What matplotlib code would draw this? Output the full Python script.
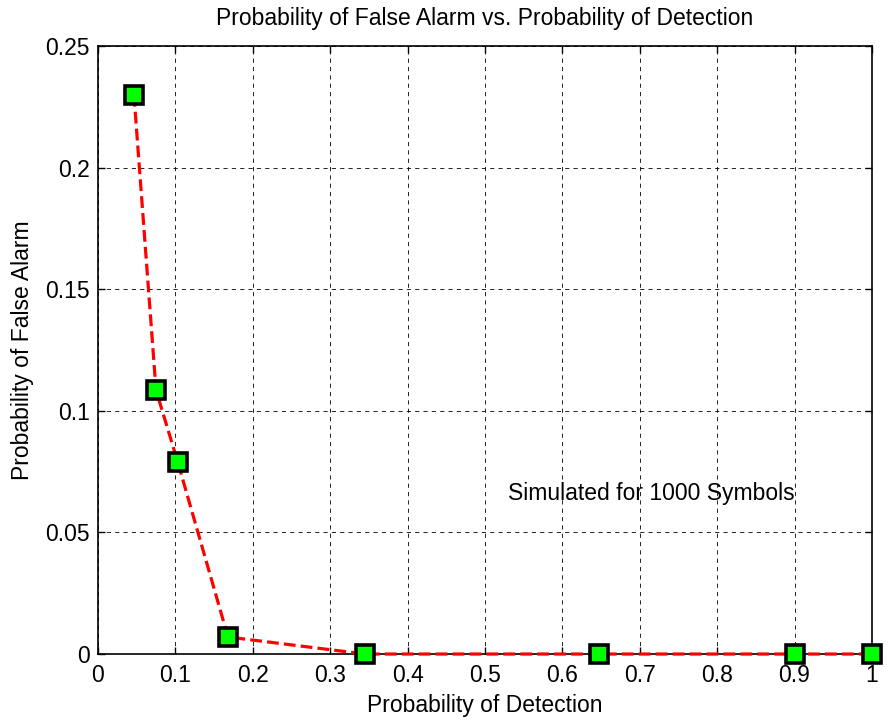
import matplotlib

matplotlib.use("Agg")
import matplotlib.pyplot as plt
import numpy as np

plt.rcParams["font.family"] = ["Liberation Sans", "DejaVu Sans"]

# detection / false alarm pairs for each threshold
p_detect = [0.0465, 0.075, 0.103, 0.168, 0.345, 0.647, 0.9005, 1.0]
p_false_alarm = [0.2299, 0.1085, 0.079, 0.007, 0.0, 0.0, 0.0, 0.0]

x_ticks = np.round(np.arange(0, 1.01, 0.1), 1)
x_tick_labels = ["0", "0.1", "0.2", "0.3", "0.4", "0.5", "0.6", "0.7", "0.8", "0.9", "1"]
y_ticks = [0, 0.05, 0.1, 0.15, 0.2, 0.25]
y_tick_labels = ["0", "0.05", "0.1", "0.15", "0.2", "0.25"]

FS = 16.5

fig = plt.figure(figsize=(8.89, 7.21), dpi=100)
ax = fig.add_axes([0.1102, 0.0929, 0.8706, 0.8433])

ax.plot(p_detect, p_false_alarm, color="red", linestyle="--", linewidth=2.3,
        marker="s", markersize=13, markerfacecolor="#00ff00",
        markeredgecolor="black", markeredgewidth=2.6, clip_on=False, zorder=3)

ax.set_xlim(0, 1)
ax.set_ylim(0, 0.25)
ax.set_xticks(x_ticks)
ax.set_xticklabels(x_tick_labels)
ax.set_yticks(y_ticks)
ax.set_yticklabels(y_tick_labels)
ax.tick_params(direction="in", top=True, right=True, labelsize=FS, length=5, width=1)
ax.tick_params(axis="x", pad=7)
ax.tick_params(axis="y", pad=6)
ax.grid(True, color="black", linestyle=(0, (5, 5)), linewidth=0.6)
for sp in ax.spines.values():
    sp.set_linewidth(1.2)

ax.set_title("Probability of False Alarm vs. Probability of Detection", fontsize=FS, pad=15)
ax.set_xlabel("Probability of Detection", fontsize=FS, labelpad=5)
ax.set_ylabel("Probability of False Alarm", fontsize=FS, labelpad=8)
ax.text(0.53, 0.0658, "Simulated for 1000 Symbols", fontsize=FS, va="center", ha="left")

fig.savefig("out.png", dpi=100)
